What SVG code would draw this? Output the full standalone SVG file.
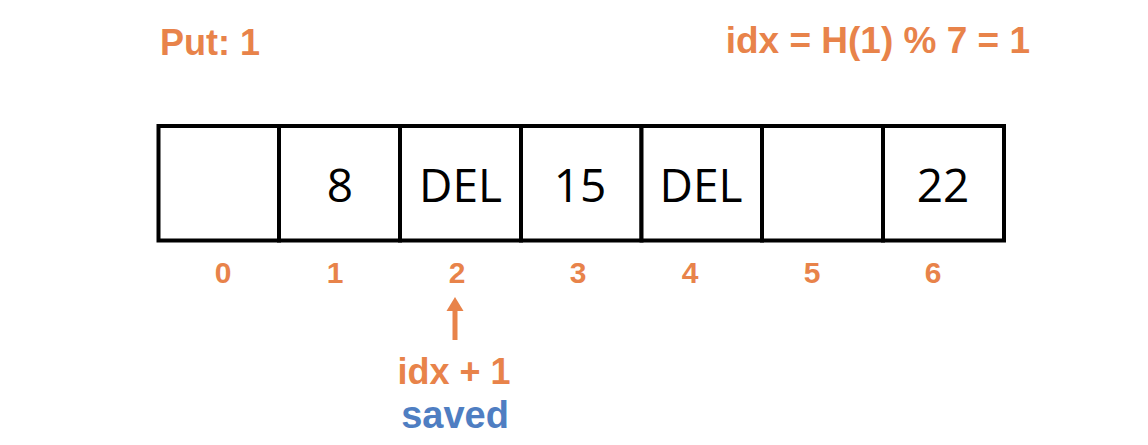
<svg xmlns="http://www.w3.org/2000/svg" width="1148" height="445" viewBox="0 0 1148 445">
<style>
.lbl{font-family:"Liberation Sans",Arial,sans-serif;font-weight:bold;fill:#E8834A}
.idx{font-size:30px;text-anchor:middle}
.cell{fill:#fff;stroke:#000;stroke-width:4}
.val{font-family:"Open Sans","Liberation Sans",sans-serif;font-size:46px;fill:#000;text-anchor:middle}
</style>
<rect width="1148" height="445" fill="#fff"/>
<text class="lbl" x="160" y="55" font-size="36">Put: 1</text>
<text class="lbl" x="1030" y="53" font-size="37" text-anchor="end">idx = H(1) % 7 = 1</text>
<g id="table">
<g id="cell0"><rect class="cell" x="158.5" y="126" width="120.5" height="114.5"/></g>
<g id="cell1"><rect class="cell" x="279" y="126" width="121" height="114.5"/><text class="val" x="340" y="202">8</text></g>
<g id="cell2"><rect class="cell" x="400" y="126" width="121" height="114.5"/><text class="val" x="460.5" y="202">DEL</text></g>
<g id="cell3"><rect class="cell" x="521" y="126" width="120.5" height="114.5"/><text class="val" x="580" y="202">15</text></g>
<g id="cell4"><rect class="cell" x="641.5" y="126" width="120.5" height="114.5"/><text class="val" x="701" y="202">DEL</text></g>
<g id="cell5"><rect class="cell" x="762" y="126" width="121" height="114.5"/></g>
<g id="cell6"><rect class="cell" x="883" y="126" width="121" height="114.5"/><text class="val" x="943" y="202">22</text></g>
</g>
<g id="indices">
<text class="lbl idx" x="223" y="283">0</text>
<text class="lbl idx" x="335" y="283">1</text>
<text class="lbl idx" x="457" y="283">2</text>
<text class="lbl idx" x="578" y="283">3</text>
<text class="lbl idx" x="690" y="283">4</text>
<text class="lbl idx" x="812" y="283">5</text>
<text class="lbl idx" x="933" y="283">6</text>
</g>
<g id="connectors">
<line x1="455" y1="340" x2="455" y2="308" stroke="#E8834A" stroke-width="5"/>
<polygon points="455,297 463.5,311 446.5,311" fill="#E8834A"/>
</g>
<g id="note">
<text class="lbl" x="454" y="384" font-size="36" text-anchor="middle">idx + 1</text>
<text class="lbl" x="455" y="428" font-size="38" text-anchor="middle" style="fill:#4F7EC2">saved</text>
</g>
</svg>
